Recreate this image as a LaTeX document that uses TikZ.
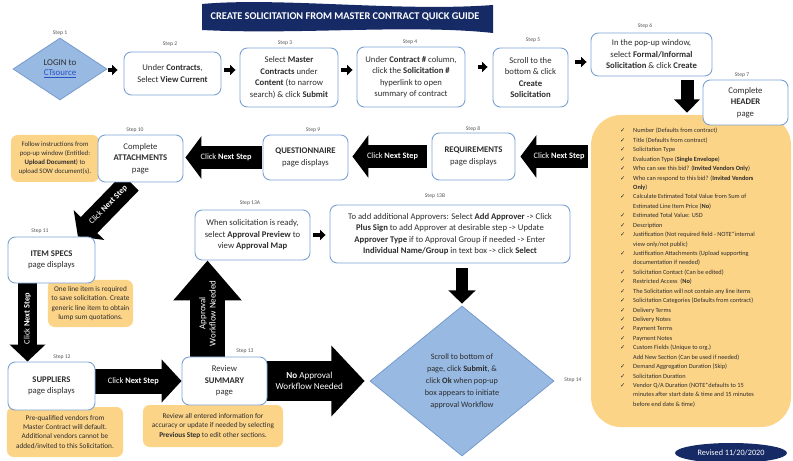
\documentclass[tikz,border=0pt]{standalone}
\usepackage{fontspec}
\setmainfont{Carlito}
\newfontfamily\symfont{DejaVu Sans}
\usetikzlibrary{shapes.geometric,arrows.meta,backgrounds,calc}
\definecolor{navy}{RGB}{22,42,102}
\definecolor{boxline}{RGB}{125,163,212}
\definecolor{dia}{RGB}{152,185,226}
\definecolor{dialine}{RGB}{112,150,202}
\definecolor{note}{RGB}{252,212,136}
\definecolor{lbl}{RGB}{85,85,85}
\definecolor{txt}{RGB}{45,45,45}
\definecolor{link}{RGB}{40,80,200}
\newcommand{\ck}{\makebox[0.39cm][l]{{\symfont ✓}}}
\newcommand{\ind}{\hspace*{0.39cm}}
\begin{document}
\begin{tikzpicture}[x=0.03cm,y=-0.03cm,
  stepbox/.style={draw=boxline, line width=0.8pt, fill=white, rounded corners=0.22cm, align=center, text=txt, font=\fontsize{7.4}{9.8}\selectfont, inner sep=1pt},
  notebox/.style={fill=note, rounded corners=0.2cm, align=center, text=txt, font=\fontsize{6.2}{7.9}\selectfont, inner sep=1pt},
  steplbl/.style={text=lbl, font=\fontsize{4.8}{5}\selectfont, inner sep=0pt},
  dbox/.style={diamond, draw=dialine, fill=dia, line width=0.6pt, align=center, text=txt, inner sep=0pt},
  smallarr/.style={line width=0.11cm, -{Triangle[length=0.16cm,width=0.3cm]}, shorten <=0.09cm, shorten >=0.12cm},
  nxt/.style={line width=0.69cm, -{Triangle[length=0.48cm,width=1.26cm]}},
  arrtxt/.style={text=white, font=\fontsize{7.1}{8.5}\selectfont, align=center, inner sep=0pt}]
\useasboundingbox (0,0) rectangle (793,461);

% title
\fill[navy] (202,4) .. controls (280,-3) and (400,12) .. (493,5) -- (493,33) .. controls (410,24) and (300,35) .. (202,30) -- cycle;
\node[text=white, font=\fontsize{8.8}{10}\selectfont\bfseries] (title) at (345,17) {CREATE SOLICITATION FROM MASTER CONTRACT QUICK GUIDE};

% top row
\node[steplbl] (l1) at (60,33) {Step 1};
\node[dbox, minimum width=2.82cm, minimum height=1.86cm, font=\fontsize{7.6}{9}\selectfont] (s1) at (60,69) {LOGIN to\\{\color{link}\underline{CTsource}}};
\node[steplbl] (l2) at (170,44) {Step 2};
\node[stepbox, minimum width=2.91cm, minimum height=1.29cm] (s2) at (172.5,73.5) {Under \textbf{Contracts},\\Select \textbf{View Current}};
\node[steplbl] (l3) at (285,43) {Step 3};
\node[stepbox, minimum width=2.94cm, minimum height=1.77cm] (s3) at (289,77.5) {Select \textbf{Master}\\\textbf{Contracts} under\\\textbf{Content} (to narrow\\search) \& click \textbf{Submit}};
\node[steplbl] (l4) at (410,42) {Step 4};
\node[stepbox, minimum width=3.24cm, minimum height=1.8cm] (s4) at (411,77) {Under \textbf{Contract \#} column,\\click the \textbf{Solicitation \#}\\hyperlink to open\\summary of contract};
\node[steplbl] (l5) at (533,40) {Step 5};
\node[stepbox, minimum width=2.25cm, minimum height=1.77cm] (s5) at (530.5,77.5) {Scroll to the\\bottom \& click\\\textbf{Create}\\\textbf{Solicitation}};
\node[steplbl] (l6) at (645,26) {Step 6};
\node[stepbox, minimum width=3.63cm, minimum height=1.29cm] (s6) at (651.5,54.5) {In the pop-up window,\\select \textbf{Formal/Informal}\\\textbf{Solicitation} \& click \textbf{Create}};

% header page list
\node[fill=note, rounded corners=0.9cm, minimum width=6cm, minimum height=9.36cm, inner sep=0pt] (hdr) at (691,271) {};
\node[steplbl] (l7) at (742,75) {Step 7};
\node[stepbox, minimum width=2.55cm, minimum height=1.35cm] (s7) at (745.5,102.5) {Complete\\\textbf{HEADER}\\page};
\node[anchor=north west, align=left, text=txt, font=\fontsize{5.4}{8.05}\selectfont, inner sep=0pt] (hdrlist) at (620,128) {%
\ck Number (Defaults from contract)\\
\ck Title (Defaults from contract)\\
\ck Solicitation Type\\
\ck Evaluation Type (\textbf{Single Envelope})\\
\ck Who can see this bid? (\textbf{Invited Vendors Only})\\
\ck Who can respond to this bid? (\textbf{Invited Vendors}\\
\ind\textbf{Only})\\
\ck Calculate Estimated Total Value from Sum of\\
\ind Estimated Line Item Price (\textbf{No})\\
\ck Estimated Total Value: USD\\
\ck Description\\
\ck Justification (Not required field - NOTE*internal\\
\ind view only/not public)\\
\ck Justification Attachments (Upload supporting\\
\ind documentation if needed)\\
\ck Solicitation Contact (Can be edited)\\
\ck Restricted Access\ \ (\textbf{No})\\
\ck The Solicitation will not contain any line items\\
\ck Solicitation Categories (Defaults from contract)\\
\ck Delivery Terms\\
\ck Delivery Notes\\
\ck Payment Terms\\
\ck Payment Notes\\
\ck Custom Fields (Unique to org.)\\
\ind Add New Section (Can be used if needed)\\
\ck Demand Aggregation Duration (Skip)\\
\ck Solicitation Duration\\
\ck Vendor Q/A Duration (NOTE*defaults to 15\\
\ind minutes after start date \& time and 15 minutes\\
\ind before end date \& time)};

% second row
\node[steplbl] (l8) at (473,129) {Step 8};
\node[stepbox, minimum width=2.49cm, minimum height=1.41cm] (s8) at (473.5,156.5) {\textbf{REQUIREMENTS}\\page displays};
\node[steplbl] (l9) at (313,130) {Step 9};
\node[stepbox, minimum width=2.55cm, minimum height=1.35cm] (s9) at (305.5,157.5) {\textbf{QUESTIONNAIRE}\\page displays};
\node[notebox, minimum width=2.64cm, minimum height=1.41cm, font=\fontsize{5.8}{7.7}\selectfont] (n10) at (55,158.5) {Follow instructions from\\pop-up window (Entitled:\\\textbf{Upload Document}) to\\upload SOW document(s).};
\node[steplbl] (l10) at (135,130) {Step 10};
\node[stepbox, minimum width=2.55cm, minimum height=1.41cm] (s10) at (140.5,158.5) {Complete\\\textbf{ATTACHMENTS}\\page};

% left column
\node[notebox, minimum width=2.55cm, minimum height=1.41cm] (n11) at (90.5,303.5) {One line item is required\\to save solicitation. Create\\generic line item to obtain\\lump sum quotations.};
\node[steplbl] (l11) at (40,231) {Step 11};
\node[stepbox, minimum width=2.61cm, minimum height=1.38cm] (s11) at (51.5,260) {\textbf{ITEM SPECS}\\page displays};
\node[notebox, minimum width=3.48cm, minimum height=1.5cm] (n12) at (65,432) {Pre-qualified vendors from\\Master Contract will default.\\Additional vendors cannot be\\added/invited to this Solicitation.};
\node[steplbl] (l12) at (62,357) {Step 12};
\node[stepbox, minimum width=2.61cm, minimum height=1.44cm] (s12) at (51.5,386) {\textbf{SUPPLIERS}\\page displays};

% summary and approvals
\node[notebox, minimum width=4.2cm, minimum height=1.26cm] (n13) at (213,426) {Review all entered information for\\accuracy or update if needed by selecting\\\textbf{Previous Step} to edit other sections.};
\node[steplbl] (l13) at (245,351) {Step 13};
\node[stepbox, minimum width=2.55cm, minimum height=1.44cm] (s13) at (224.5,381) {Review\\\textbf{SUMMARY}\\page};
\node[steplbl] (l13a) at (250,203) {Step 13A};
\node[stepbox, minimum width=3.45cm, minimum height=1.5cm] (s13a) at (252.5,235) {When solicitation is ready,\\select \textbf{Approval Preview} to\\view \textbf{Approval Map}};
\node[steplbl] (l13b) at (435,196) {Step 13B};
\node[stepbox, minimum width=7.2cm, minimum height=1.74cm] (s13b) at (450,234) {To add additional Approvers: Select \textbf{Add Approver} -> Click\\\textbf{Plus Sign} to add Approver at desirable step -> Update\\\textbf{Approver Type} if to Approval Group if needed -> Enter\\\textbf{Individual Name/Group} in text box -> click \textbf{Select}};
\node[dbox, minimum width=5.52cm, minimum height=4.5cm, font=\fontsize{7}{10.2}\selectfont] (s14) at (462,381) {Scroll to bottom of\\page, click \textbf{Submit}, \&\\click \textbf{Ok} when pop-up\\box appears to initiate\\approval Workflow};
\node[steplbl] (l14) at (573,380) {Step 14};

\node[ellipse, fill=navy, minimum width=3.36cm, minimum height=0.6cm, text=white, font=\fontsize{7}{8}\selectfont] (rev) at (731,453) {Revised 11/20/2020};

% connectors
\begin{scope}[on background layer]
\draw[smallarr, shorten <=0.03cm, shorten >=0.18cm] (s1.east |- 0,70) -- (s2.west |- 0,70);
\draw[smallarr] (s2.east |- 0,70) -- (s3.west |- 0,70);
\draw[smallarr] (s3.east |- 0,70) -- (s4.west |- 0,70);
\draw[smallarr, shorten <=0.39cm, shorten >=0.15cm] (s4.east |- 0,67) -- (s5.west |- 0,67);
\draw[smallarr, shorten <=0.21cm] (s5.east |- 0,62) -- (s6.west |- 0,62);
\draw[smallarr] (s13a.east) -- (s13a.east -| s13b.west);
\draw[line width=0.39cm, -{Triangle[length=0.4cm,width=0.75cm]}, shorten <=0.12cm, shorten >=0.06cm] ([xshift=1.065cm]s6.south) -- ([xshift=1.065cm]s6.south |- hdr.north);
\draw[nxt, shorten <=0.09cm, shorten >=0.15cm] (hdr.west |- s8.east) -- (s8.east) node[arrtxt, pos=.42] {Click \textbf{Next Step}};
\draw[nxt, shorten <=0.15cm, shorten >=0.12cm] (s8.west) -- (s8.west -| s9.east) node[arrtxt, pos=.47] {Click \textbf{Next Step}};
\draw[nxt, shorten <=0.03cm, shorten >=0.06cm] (s9.west) -- (s9.west -| s10.east) node[arrtxt, pos=.46] {Click \textbf{Next Step}};
\draw[nxt] ([xshift=-0.3cm]s10.south) -- ($(s11.north)!.6!(s11.north east)$) node[arrtxt, pos=.42, sloped] {Click \textbf{Next Step}};
\draw[line width=0.57cm, -{Triangle[length=0.51cm,width=1.05cm]}] ([xshift=-0.72cm]s11.south) -- ([xshift=-0.72cm]s12.north) node[arrtxt, pos=.45, rotate=90] {Click \textbf{Next Step}};
\draw[line width=0.75cm, -{Triangle[length=0.6cm,width=1.26cm]}] (s12.east |- s13.west) -- (s13.west) node[arrtxt, pos=.44] {Click \textbf{Next Step}};
\draw[line width=1.05cm, -{Triangle[length=1.2cm,width=1.98cm]}] ([xshift=-0.51cm]s13.north) -- ([xshift=-0.51cm]s13.north |- s13a.south) node[arrtxt, pos=.45, rotate=90, font=\fontsize{7.6}{8.8}\selectfont] {Approval\\Workflow Needed};
\draw[line width=1.2cm, -{Triangle[length=1cm,width=2.07cm]}, shorten >=0.15cm] (s13.east) -- (s14.west) node[arrtxt, pos=.41, font=\fontsize{7.8}{9}\selectfont] {\textbf{No} Approval\\Workflow Needed};
\draw[line width=0.38cm, -{Triangle[length=0.4cm,width=0.8cm]}, shorten <=0.15cm, shorten >=0.06cm] (s14.north |- s13b.south) -- (s14.north);
\end{scope}
\end{tikzpicture}
\end{document}
